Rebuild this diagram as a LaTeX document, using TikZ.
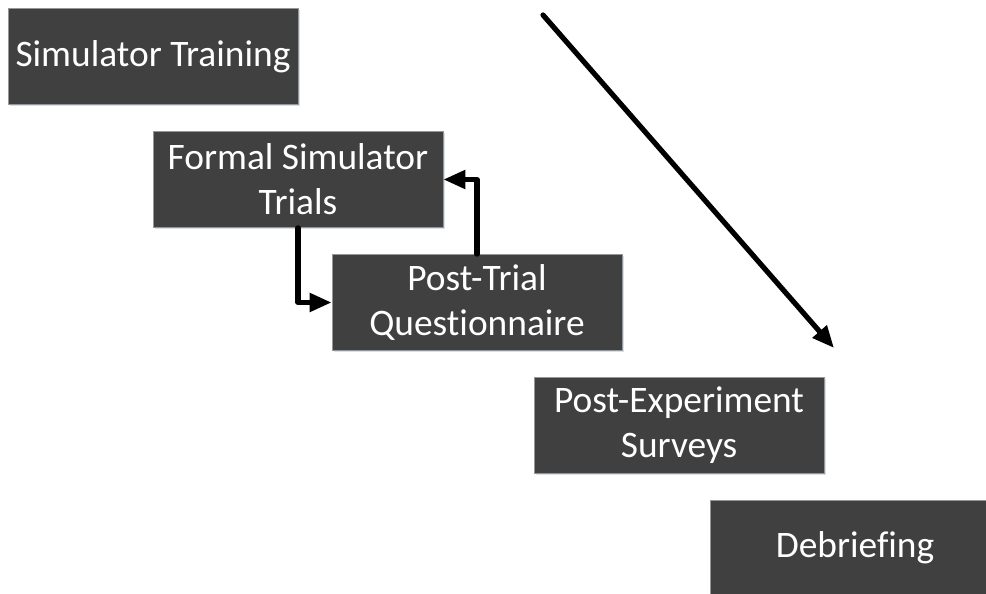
\documentclass[tikz,border=0pt]{standalone}
\usepackage{fontspec}
\setmainfont{Carlito}[Ligatures=NoCommon]
\usepackage{tikz}
\usetikzlibrary{arrows.meta}
\usetikzlibrary{shadows}
\definecolor{charcoal}{RGB}{64, 64, 64}
\definecolor{boxedge}{RGB}{150, 150, 150}
\definecolor{haze}{RGB}{215, 225, 235}

\tikzset{
    stage/.style={draw=boxedge, line width=0.4pt, fill=charcoal, text=white,
                  minimum width=145pt, minimum height=48pt, inner sep=0pt,
                  align=center, font=\fontsize{18.7}{22.5}\selectfont,
                  drop shadow={shadow xshift=0.8pt, shadow yshift=-0.8pt, fill=haze, opacity=1}},
    flow/.style={line width=2.6pt, line cap=round, line join=round,
                 -{Triangle[length=11pt, width=9pt]}}
}

\begin{document}
\begin{tikzpicture}[x=0.5pt, y=-0.5pt]
            % Page frame
            \useasboundingbox (0, 0) rectangle (986, 594);
            \clip (0, 0) rectangle (986, 594);
            % Stages
            \node[stage] (training)      at (153, 56.5) {Simulator Training};
            \node[stage] (trials)        at (298, 179.5) {Formal Simulator\\Trials};
            \node[stage] (questionnaire) at (477, 302.5) {Post-Trial\\Questionnaire};
            \node[stage] (surveys)       at (679, 425)   {Post-Experiment\\Surveys};
            \node[stage] (debriefing)    at (855, 548)   {Debriefing};
            % Trial loop
            \draw[flow] (trials.south) |- (questionnaire.west);
            \draw[flow] (questionnaire.north) |- (trials.east);
            % Overall progression
            \coordinate (start) at (543, 15);
            \coordinate (finish) at (834, 348);
            \draw[flow] (start) -- (finish);
\end{tikzpicture}
\end{document}
